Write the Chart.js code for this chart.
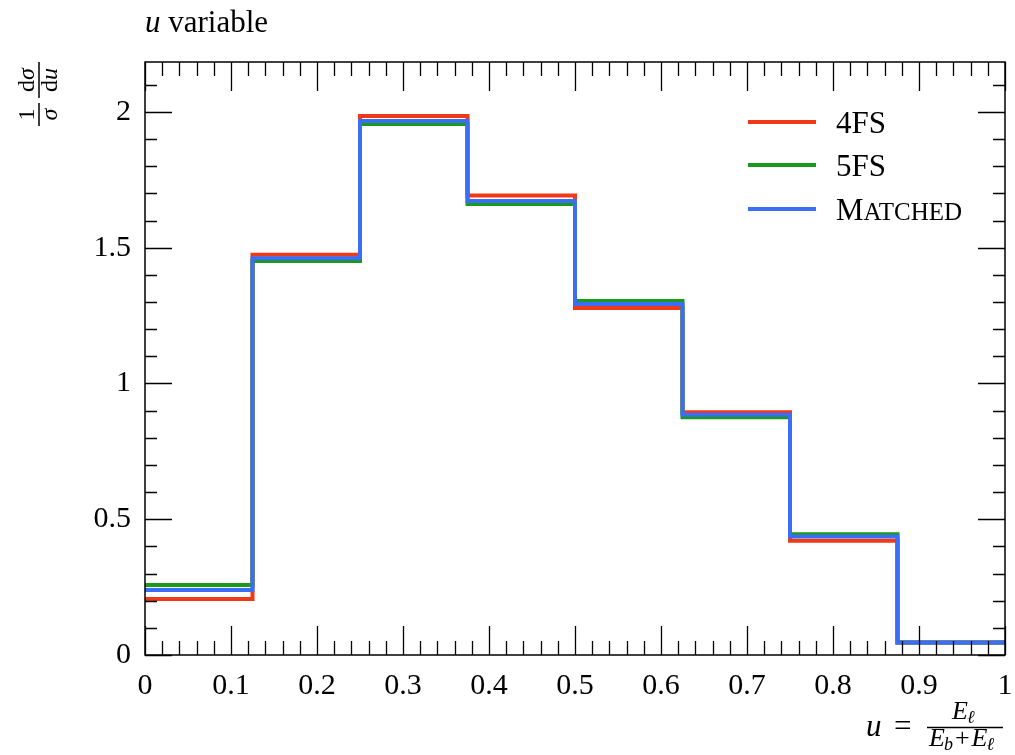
<!DOCTYPE html>
<html><head><meta charset="utf-8">
<script src="https://cdn.jsdelivr.net/npm/chart.js@4"></script>
<style>html,body{margin:0;padding:0;background:#fff}#wrap{width:1015px;height:755px;position:relative}</style>
</head><body><div id="wrap"><canvas id="c" width="1015" height="755"></canvas></div>
<script>
const binEdges = [0, 0.125, 0.25, 0.375, 0.5, 0.625, 0.75, 0.875, 1];
const fs4 = [0.206, 1.474, 1.985, 1.692, 1.278, 0.894, 0.421, 0.046];
const fs5 = [0.258, 1.451, 1.956, 1.661, 1.304, 0.876, 0.445, 0.046];
const matched = [0.239, 1.461, 1.967, 1.672, 1.293, 0.885, 0.436, 0.046];
const seriesNames = ['4FS', '5FS', 'Matched'];
const seriesColors = ['#F03A17', '#199A1C', '#3B6EF6'];
const xTicks = [0, 0.1, 0.2, 0.3, 0.4, 0.5, 0.6, 0.7, 0.8, 0.9, 1];
const yTicks = [0, 0.5, 1, 1.5, 2];
const xMinorStep = 0.02, yMinorStep = 0.1;
const yMax = 2.184;

const FONT = "'Liberation Serif', 'DejaVu Serif', serif";

function stepPoints(vals) {
  return binEdges.map((e, i) => ({ x: e, y: vals[Math.min(i, vals.length - 1)] }));
}

const datasets = [fs4, fs5, matched].map((vals, i) => ({
  label: seriesNames[i],
  data: stepPoints(vals),
  borderColor: seriesColors[i],
  backgroundColor: seriesColors[i],
  borderWidth: 4,
  pointRadius: 0,
  stepped: 'before',
  fill: false,
  order: 2 - i
}));

const decor = {
  id: 'decor',
  afterDraw(chart) {
    const ctx = chart.ctx;
    const a = chart.chartArea;
    const xs = chart.scales.x, ys = chart.scales.y;
    ctx.save();
    ctx.strokeStyle = '#000';
    ctx.lineWidth = 1.5;
    ctx.strokeRect(a.left, a.top, a.right - a.left, a.bottom - a.top);
    ctx.lineWidth = 1.3;
    const nx = Math.round(1 / xMinorStep);
    for (let k = 0; k <= nx; k++) {
      const v = k * xMinorStep;
      const major = k % 5 === 0;
      const len = major ? 29 : 14;
      const px = Math.round(xs.getPixelForValue(v)) + 0.5;
      ctx.beginPath();
      ctx.moveTo(px, a.bottom); ctx.lineTo(px, a.bottom - len);
      ctx.moveTo(px, a.top); ctx.lineTo(px, a.top + len);
      ctx.stroke();
    }
    const ny = Math.floor(yMax / yMinorStep + 1e-9);
    for (let k = 0; k <= ny; k++) {
      const v = k * yMinorStep;
      const major = k % 5 === 0;
      const len = major ? 27 : 12;
      const py = Math.round(ys.getPixelForValue(v)) + 0.5;
      ctx.beginPath();
      ctx.moveTo(a.left, py); ctx.lineTo(a.left + len, py);
      ctx.moveTo(a.right, py); ctx.lineTo(a.right - len, py);
      ctx.stroke();
    }
    ctx.fillStyle = '#000';
    ctx.textBaseline = 'alphabetic';
    ctx.textAlign = 'left';
    // title
    ctx.font = "italic 31px " + FONT;
    ctx.fillText('u', 145, 32);
    let w = ctx.measureText('u').width;
    ctx.font = "31px " + FONT;
    ctx.fillText(' variable', 145 + w, 32);

    // legend
    const ly = [122, 165, 209];
    seriesNames.forEach((n, i) => {
      ctx.strokeStyle = seriesColors[i];
      ctx.lineWidth = 4;
      ctx.beginPath();
      ctx.moveTo(748, ly[i]); ctx.lineTo(816, ly[i]);
      ctx.stroke();
      const base = ly[i] + 11;
      if (n === 'Matched') {
        ctx.font = "31px " + FONT;
        ctx.fillText('M', 836, base);
        const mw = ctx.measureText('M').width;
        ctx.font = "25px " + FONT;
        ctx.fillText('ATCHED', 836 + mw, base);
      } else {
        ctx.font = "31px " + FONT;
        ctx.fillText(n, 836, base);
      }
    });

    // y axis label (rotated fraction)
    ctx.save();
    ctx.translate(39, 94);
    ctx.rotate(-Math.PI / 2);
    ctx.strokeStyle = '#000';
    ctx.lineWidth = 1.5;
    ctx.textAlign = 'center';
    ctx.beginPath();
    ctx.moveTo(-32, 0); ctx.lineTo(-9, 0);
    ctx.moveTo(-4, 0); ctx.lineTo(32, 0);
    ctx.stroke();
    const FS = 24;
    ctx.font = FS + "px " + FONT;
    ctx.fillText('1', -20.5, -5);
    ctx.font = "italic " + FS + "px " + FONT;
    ctx.fillText('σ', -20.5, 18);
    ctx.textAlign = 'left';
    ctx.font = FS + "px " + FONT;
    let dw = ctx.measureText('d').width;
    ctx.font = "italic " + FS + "px " + FONT;
    let sw = ctx.measureText('σ').width;
    let x0 = 14 - (dw + sw) / 2;
    ctx.font = FS + "px " + FONT;
    ctx.fillText('d', x0, -5);
    ctx.font = "italic " + FS + "px " + FONT;
    ctx.fillText('σ', x0 + dw, -5);
    let uw = ctx.measureText('u').width;
    x0 = 14 - (dw + uw) / 2;
    ctx.font = FS + "px " + FONT;
    ctx.fillText('d', x0, 18);
    ctx.font = "italic " + FS + "px " + FONT;
    ctx.fillText('u', x0 + dw, 18);
    ctx.restore();

    // x axis label: u = E_l / (E_b + E_l)
    ctx.textAlign = 'left';
    ctx.font = "italic 31px " + FONT;
    ctx.fillText('u', 866, 736);
    ctx.font = "31px " + FONT;
    ctx.fillText('=', 894, 736);
    ctx.strokeStyle = '#000';
    ctx.lineWidth = 1.5;
    ctx.beginPath();
    ctx.moveTo(927, 727.5); ctx.lineTo(1003, 727.5);
    ctx.stroke();
    function sub(x, y, main, s) {
      ctx.font = "italic 26px " + FONT;
      ctx.fillText(main, x, y);
      const mw = ctx.measureText(main).width;
      ctx.font = "italic 18px " + FONT;
      ctx.fillText(s, x + mw - 1, y + 4);
      return mw - 1 + ctx.measureText(s).width;
    }
    sub(952, 719, 'E', 'ℓ');
    let cx = 929;
    cx += sub(cx, 746, 'E', 'b') + 2;
    ctx.font = "26px " + FONT;
    ctx.fillText('+', cx, 746);
    cx += ctx.measureText('+').width + 2;
    sub(cx, 746, 'E', 'ℓ');
    ctx.restore();
  }
};

new Chart(document.getElementById('c'), {
  type: 'line',
  data: { datasets },
  options: {
    responsive: false,
    animation: false,
    devicePixelRatio: 1,
    layout: { padding: { left: 0, top: 62, right: 10, bottom: 0 } },
    plugins: { legend: { display: false }, tooltip: { enabled: false }, title: { display: false } },
    scales: {
      x: {
        type: 'linear', min: 0, max: 1,
        grid: { display: false, drawTicks: false },
        border: { display: false },
        afterBuildTicks: s => { s.ticks = xTicks.map(v => ({ value: v })); },
        afterFit: s => { s.height = 100; s.paddingLeft = 0; s.paddingRight = 0; },
        ticks: {
          color: '#000', padding: 13, maxRotation: 0, autoSkip: false,
          font: { family: FONT, size: 30 },
          callback: v => String(v)
        }
      },
      y: {
        type: 'linear', min: 0, max: yMax,
        grid: { display: false, drawTicks: false },
        border: { display: false },
        afterBuildTicks: s => { s.ticks = yTicks.map(v => ({ value: v })); },
        afterFit: s => { s.width = 145; s.paddingTop = 0; s.paddingBottom = 0; },
        ticks: {
          color: '#000', padding: 14, autoSkip: false,
          font: { family: FONT, size: 30 },
          callback: v => String(v)
        }
      }
    }
  },
  plugins: [decor]
});
</script>
</body></html>
